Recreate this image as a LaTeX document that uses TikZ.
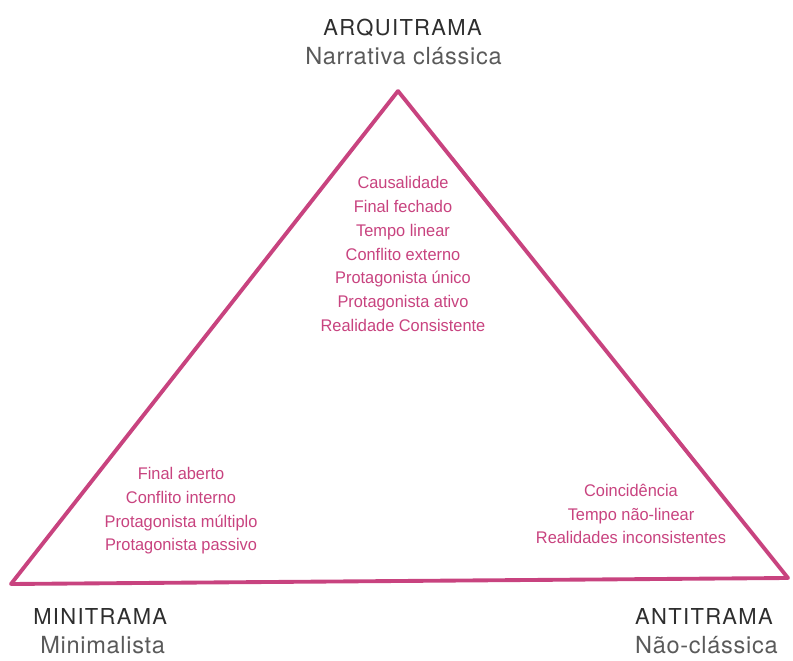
\documentclass[tikz,border=0pt]{standalone}
\usepackage{fontspec}
\setmainfont{TeX Gyre Heros}
\newfontfamily\titlefont[LetterSpace=6]{TeX Gyre Heros}
\newfontfamily\subfont[LetterSpace=3]{TeX Gyre Heros}
\newfontfamily\narrowfont[FakeStretch=0.97]{Liberation Sans}
\usetikzlibrary{positioning}
\definecolor{trama}{HTML}{C8437F}
\definecolor{titlegray}{HTML}{2E2E2E}
\definecolor{subgray}{HTML}{5A5A5A}

\begin{document}
\begin{tikzpicture}[  side/.style={    draw=trama,    line width=2.2pt,    line cap=round  },  corner/.style={    font=\titlefont\fontsize{12.5}{14}\selectfont,    text=titlegray,    inner sep=0pt  },  sub/.style={    font=\subfont\fontsize{13.4}{15}\selectfont,    text=subgray,    inner sep=0pt  },  traits/.style={    align=center,    text=trama,    inner sep=0pt,    font=\narrowfont\fontsize{9.6}{13.5}\selectfont  }]
		\useasboundingbox (0,0) rectangle (15.86,13.2);
		% Corners
		\coordinate (A) at (7.96,11.38);
		\coordinate (B) at (0.22,1.52);
		\coordinate (C) at (15.76,1.64);
		% Triangle
		\draw[side] (A) -- (B);
		\draw[side] (B) -- (C);
		\draw[side] (C) -- (A);
		% Labels
		\node[corner] (arqui) at (8.05,12.65) {ARQUITRAMA};
		\node[sub] (arquisub) at (8.07,12.08) {Narrativa clássica};
		\node[corner, anchor=west] (mini) at (0.66,0.88) {MINITRAMA};
		\node[sub, anchor=west] (minisub) at (0.8,0.3) {Minimalista};
		\node[corner, anchor=east] (anti) at (15.46,0.88) {ANTITRAMA};
		\node[sub, anchor=east] (antisub) at (15.56,0.3) {Não-clássica};
		% Traits
		\node[traits] (arquitraits) at (8.06,8.12) {Causalidade\\Final fechado\\Tempo linear\\Conflito externo\\Protagonista único\\Protagonista ativo\\Realidade Consistente};
		\node[traits] (minitraits) at (3.62,2.98) {Final aberto\\Conflito interno\\Protagonista múltiplo\\Protagonista passivo};
		\node[traits] (antitraits) at (12.62,2.92) {Coincidência\\Tempo não-linear\\Realidades inconsistentes};
	\end{tikzpicture}
\end{document}
